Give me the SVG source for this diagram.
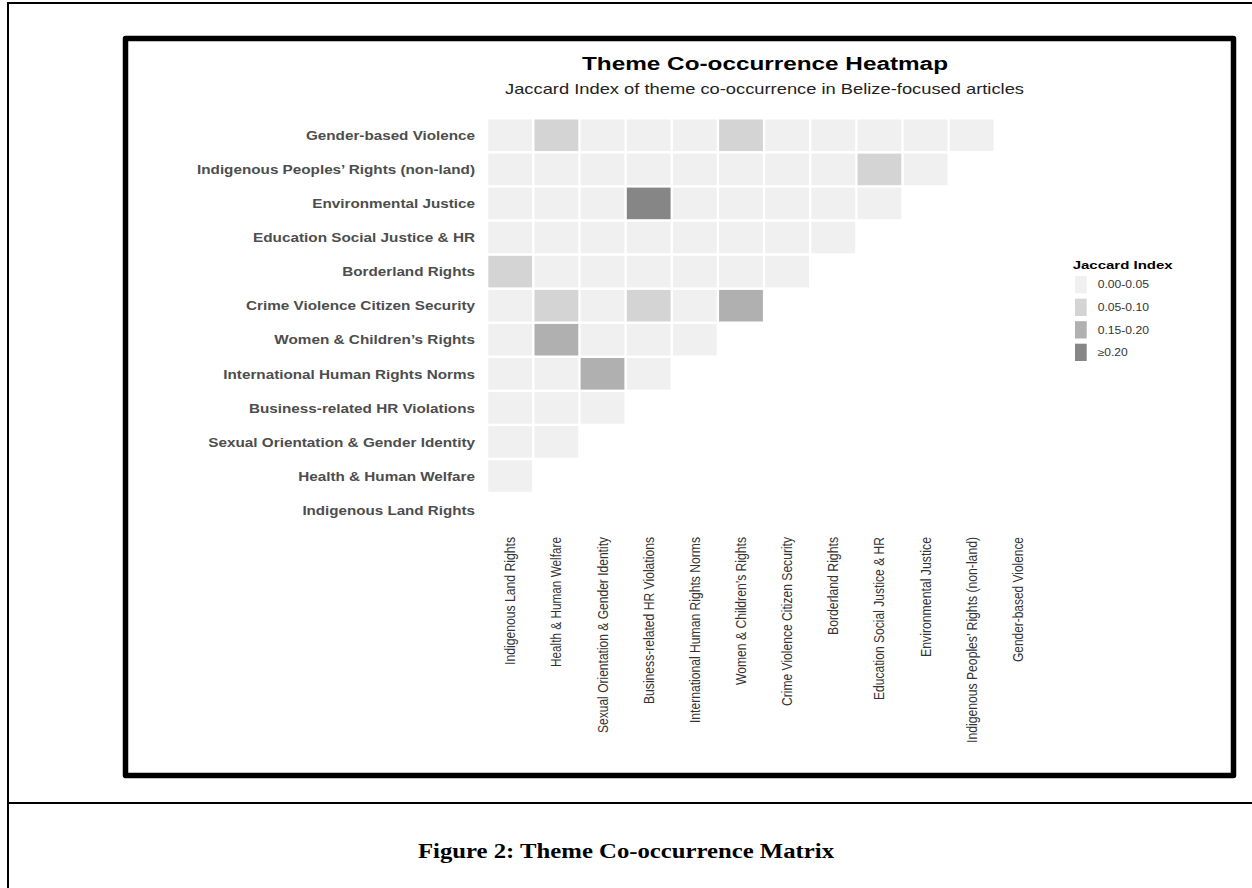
<svg xmlns="http://www.w3.org/2000/svg" width="1252" height="888" viewBox="0 0 1252 888">
  <style>
    .rule { stroke: #000; stroke-width: 2; fill: none; }
    .panel { stroke: #000; stroke-width: 5.5; fill: #fff; stroke-linejoin: round; }
    .c0 { fill: #f0f0f0; }
    .c1 { fill: #d4d4d4; }
    .c2 { fill: #b0b0b0; }
    .c3 { fill: #868686; }
    .title { font-family: "Liberation Sans", Arial, sans-serif; font-weight: bold; font-size: 17.5px; fill: #000; }
    .subtitle { font-family: "Liberation Sans", Arial, sans-serif; font-size: 15px; fill: #222; }
    .ylab { font-family: "Liberation Sans", Arial, sans-serif; font-weight: bold; font-size: 13px; fill: #4d4d4d; text-anchor: end; }
    .xlab { font-family: "Liberation Sans", Arial, sans-serif; font-size: 14px; fill: #333; text-anchor: end; }
    .legtitle { font-family: "Liberation Sans", Arial, sans-serif; font-weight: bold; font-size: 11px; fill: #000; }
    .leglab { font-family: "Liberation Sans", Arial, sans-serif; font-size: 10px; fill: #333; }
    .caption { font-family: "Liberation Serif", "Times New Roman", serif; font-weight: bold; font-size: 20px; fill: #000; text-anchor: middle; }
  </style>

  <rect width="1252" height="888" fill="#fff"/>

  <!-- page rules around the figure -->
  <g id="page-rules">
    <line class="rule" x1="8" y1="3" x2="1252" y2="3"/>
    <line class="rule" x1="8" y1="2" x2="8" y2="888"/>
    <line class="rule" x1="8" y1="803" x2="1252" y2="803"/>
  </g>

  <!-- framed plot panel -->
  <rect id="panel" class="panel" x="125.5" y="38.5" width="1108" height="737"/>

  <g id="titles">
    <text class="title" x="765" y="70" text-anchor="middle" textLength="366" lengthAdjust="spacingAndGlyphs">Theme Co-occurrence Heatmap</text>
    <text class="subtitle" x="764.5" y="94" text-anchor="middle" textLength="519" lengthAdjust="spacingAndGlyphs">Jaccard Index of theme co-occurrence in Belize-focused articles</text>
  </g>

  <!-- lower-triangular heatmap tiles, one group per row -->
  <g id="tiles">
    <g id="row-gender-based-violence">
      <rect class="c0" x="488.3" y="119.5" width="43.8" height="31.6"/>
      <rect class="c1" x="534.5" y="119.5" width="43.8" height="31.6"/>
      <rect class="c0" x="580.6" y="119.5" width="43.8" height="31.6"/>
      <rect class="c0" x="626.8" y="119.5" width="43.8" height="31.6"/>
      <rect class="c0" x="672.9" y="119.5" width="43.8" height="31.6"/>
      <rect class="c1" x="719.1" y="119.5" width="43.8" height="31.6"/>
      <rect class="c0" x="765.2" y="119.5" width="43.8" height="31.6"/>
      <rect class="c0" x="811.4" y="119.5" width="43.8" height="31.6"/>
      <rect class="c0" x="857.5" y="119.5" width="43.8" height="31.6"/>
      <rect class="c0" x="903.7" y="119.5" width="43.8" height="31.6"/>
      <rect class="c0" x="949.8" y="119.5" width="43.8" height="31.6"/>
    </g>
    <g id="row-indigenous-peoples-rights">
      <rect class="c0" x="488.3" y="153.6" width="43.8" height="31.6"/>
      <rect class="c0" x="534.5" y="153.6" width="43.8" height="31.6"/>
      <rect class="c0" x="580.6" y="153.6" width="43.8" height="31.6"/>
      <rect class="c0" x="626.8" y="153.6" width="43.8" height="31.6"/>
      <rect class="c0" x="672.9" y="153.6" width="43.8" height="31.6"/>
      <rect class="c0" x="719.1" y="153.6" width="43.8" height="31.6"/>
      <rect class="c0" x="765.2" y="153.6" width="43.8" height="31.6"/>
      <rect class="c0" x="811.4" y="153.6" width="43.8" height="31.6"/>
      <rect class="c1" x="857.5" y="153.6" width="43.8" height="31.6"/>
      <rect class="c0" x="903.7" y="153.6" width="43.8" height="31.6"/>
    </g>
    <g id="row-environmental-justice">
      <rect class="c0" x="488.3" y="187.6" width="43.8" height="31.6"/>
      <rect class="c0" x="534.5" y="187.6" width="43.8" height="31.6"/>
      <rect class="c0" x="580.6" y="187.6" width="43.8" height="31.6"/>
      <rect class="c3" x="626.8" y="187.6" width="43.8" height="31.6"/>
      <rect class="c0" x="672.9" y="187.6" width="43.8" height="31.6"/>
      <rect class="c0" x="719.1" y="187.6" width="43.8" height="31.6"/>
      <rect class="c0" x="765.2" y="187.6" width="43.8" height="31.6"/>
      <rect class="c0" x="811.4" y="187.6" width="43.8" height="31.6"/>
      <rect class="c0" x="857.5" y="187.6" width="43.8" height="31.6"/>
    </g>
    <g id="row-education">
      <rect class="c0" x="488.3" y="221.7" width="43.8" height="31.6"/>
      <rect class="c0" x="534.5" y="221.7" width="43.8" height="31.6"/>
      <rect class="c0" x="580.6" y="221.7" width="43.8" height="31.6"/>
      <rect class="c0" x="626.8" y="221.7" width="43.8" height="31.6"/>
      <rect class="c0" x="672.9" y="221.7" width="43.8" height="31.6"/>
      <rect class="c0" x="719.1" y="221.7" width="43.8" height="31.6"/>
      <rect class="c0" x="765.2" y="221.7" width="43.8" height="31.6"/>
      <rect class="c0" x="811.4" y="221.7" width="43.8" height="31.6"/>
    </g>
    <g id="row-borderland-rights">
      <rect class="c1" x="488.3" y="255.8" width="43.8" height="31.6"/>
      <rect class="c0" x="534.5" y="255.8" width="43.8" height="31.6"/>
      <rect class="c0" x="580.6" y="255.8" width="43.8" height="31.6"/>
      <rect class="c0" x="626.8" y="255.8" width="43.8" height="31.6"/>
      <rect class="c0" x="672.9" y="255.8" width="43.8" height="31.6"/>
      <rect class="c0" x="719.1" y="255.8" width="43.8" height="31.6"/>
      <rect class="c0" x="765.2" y="255.8" width="43.8" height="31.6"/>
    </g>
    <g id="row-crime-violence">
      <rect class="c0" x="488.3" y="289.9" width="43.8" height="31.6"/>
      <rect class="c1" x="534.5" y="289.9" width="43.8" height="31.6"/>
      <rect class="c0" x="580.6" y="289.9" width="43.8" height="31.6"/>
      <rect class="c1" x="626.8" y="289.9" width="43.8" height="31.6"/>
      <rect class="c0" x="672.9" y="289.9" width="43.8" height="31.6"/>
      <rect class="c2" x="719.1" y="289.9" width="43.8" height="31.6"/>
    </g>
    <g id="row-women-children">
      <rect class="c0" x="488.3" y="323.9" width="43.8" height="31.6"/>
      <rect class="c2" x="534.5" y="323.9" width="43.8" height="31.6"/>
      <rect class="c0" x="580.6" y="323.9" width="43.8" height="31.6"/>
      <rect class="c0" x="626.8" y="323.9" width="43.8" height="31.6"/>
      <rect class="c0" x="672.9" y="323.9" width="43.8" height="31.6"/>
    </g>
    <g id="row-international-norms">
      <rect class="c0" x="488.3" y="358.0" width="43.8" height="31.6"/>
      <rect class="c0" x="534.5" y="358.0" width="43.8" height="31.6"/>
      <rect class="c2" x="580.6" y="358.0" width="43.8" height="31.6"/>
      <rect class="c0" x="626.8" y="358.0" width="43.8" height="31.6"/>
    </g>
    <g id="row-business-hr">
      <rect class="c0" x="488.3" y="392.1" width="43.8" height="31.6"/>
      <rect class="c0" x="534.5" y="392.1" width="43.8" height="31.6"/>
      <rect class="c0" x="580.6" y="392.1" width="43.8" height="31.6"/>
    </g>
    <g id="row-sexual-orientation">
      <rect class="c0" x="488.3" y="426.1" width="43.8" height="31.6"/>
      <rect class="c0" x="534.5" y="426.1" width="43.8" height="31.6"/>
    </g>
    <g id="row-health-welfare">
      <rect class="c0" x="488.3" y="460.2" width="43.8" height="31.6"/>
    </g>
  </g>

  <!-- y axis labels -->
  <g id="y-axis">
    <text class="ylab" x="475" y="140.0" textLength="169" lengthAdjust="spacingAndGlyphs">Gender-based Violence</text>
    <text class="ylab" x="475" y="174.1" textLength="278" lengthAdjust="spacingAndGlyphs">Indigenous Peoples’ Rights (non-land)</text>
    <text class="ylab" x="475" y="208.1" textLength="162.7" lengthAdjust="spacingAndGlyphs">Environmental Justice</text>
    <text class="ylab" x="475" y="242.2" textLength="222" lengthAdjust="spacingAndGlyphs">Education Social Justice &amp; HR</text>
    <text class="ylab" x="475" y="276.3" textLength="132.7" lengthAdjust="spacingAndGlyphs">Borderland Rights</text>
    <text class="ylab" x="475" y="310.4" textLength="229" lengthAdjust="spacingAndGlyphs">Crime Violence Citizen Security</text>
    <text class="ylab" x="475" y="344.4" textLength="200.7" lengthAdjust="spacingAndGlyphs">Women &amp; Children’s Rights</text>
    <text class="ylab" x="475" y="378.5" textLength="251.7" lengthAdjust="spacingAndGlyphs">International Human Rights Norms</text>
    <text class="ylab" x="475" y="412.6" textLength="226" lengthAdjust="spacingAndGlyphs">Business-related HR Violations</text>
    <text class="ylab" x="475" y="446.6" textLength="266.7" lengthAdjust="spacingAndGlyphs">Sexual Orientation &amp; Gender Identity</text>
    <text class="ylab" x="475" y="480.7" textLength="176.7" lengthAdjust="spacingAndGlyphs">Health &amp; Human Welfare</text>
    <text class="ylab" x="475" y="514.8" textLength="172.6" lengthAdjust="spacingAndGlyphs">Indigenous Land Rights</text>
  </g>

  <!-- x axis labels, rotated to read upward -->
  <g id="x-axis">
    <text class="xlab" transform="translate(515.2 537) rotate(-90)" textLength="128" lengthAdjust="spacingAndGlyphs">Indigenous Land Rights</text>
    <text class="xlab" transform="translate(561.4 537) rotate(-90)" textLength="130" lengthAdjust="spacingAndGlyphs">Health &amp; Human Welfare</text>
    <text class="xlab" transform="translate(607.5 537) rotate(-90)" textLength="196" lengthAdjust="spacingAndGlyphs">Sexual Orientation &amp; Gender Identity</text>
    <text class="xlab" transform="translate(653.7 537) rotate(-90)" textLength="167" lengthAdjust="spacingAndGlyphs">Business-related HR Violations</text>
    <text class="xlab" transform="translate(699.8 537) rotate(-90)" textLength="186" lengthAdjust="spacingAndGlyphs">International Human Rights Norms</text>
    <text class="xlab" transform="translate(746.0 537) rotate(-90)" textLength="148" lengthAdjust="spacingAndGlyphs">Women &amp; Children’s Rights</text>
    <text class="xlab" transform="translate(792.1 537) rotate(-90)" textLength="169" lengthAdjust="spacingAndGlyphs">Crime Violence Citizen Security</text>
    <text class="xlab" transform="translate(838.3 537) rotate(-90)" textLength="98" lengthAdjust="spacingAndGlyphs">Borderland Rights</text>
    <text class="xlab" transform="translate(884.4 537) rotate(-90)" textLength="163" lengthAdjust="spacingAndGlyphs">Education Social Justice &amp; HR</text>
    <text class="xlab" transform="translate(930.6 537) rotate(-90)" textLength="120" lengthAdjust="spacingAndGlyphs">Environmental Justice</text>
    <text class="xlab" transform="translate(976.7 537) rotate(-90)" textLength="206" lengthAdjust="spacingAndGlyphs">Indigenous Peoples’ Rights (non-land)</text>
    <text class="xlab" transform="translate(1022.9 537) rotate(-90)" textLength="125" lengthAdjust="spacingAndGlyphs">Gender-based Violence</text>
  </g>

  <!-- colour legend -->
  <g id="legend">
    <text class="legtitle" x="1072.7" y="269.3" textLength="100" lengthAdjust="spacingAndGlyphs">Jaccard Index</text>
    <rect class="c0" x="1075" y="276" width="11.7" height="17.3"/>
    <rect class="c1" x="1075" y="298.7" width="11.7" height="17.3"/>
    <rect class="c2" x="1075" y="321.2" width="11.7" height="17.3"/>
    <rect class="c3" x="1075" y="343.7" width="11.7" height="17.3"/>
    <text class="leglab" x="1097.7" y="288.4" textLength="51.3" lengthAdjust="spacingAndGlyphs">0.00-0.05</text>
    <text class="leglab" x="1097.7" y="311.1" textLength="51.3" lengthAdjust="spacingAndGlyphs">0.05-0.10</text>
    <text class="leglab" x="1097.7" y="333.6" textLength="51.3" lengthAdjust="spacingAndGlyphs">0.15-0.20</text>
    <text class="leglab" x="1097.7" y="356.1" textLength="30" lengthAdjust="spacingAndGlyphs">≥0.20</text>
  </g>

  <text id="caption" class="caption" x="626" y="858" textLength="416" lengthAdjust="spacingAndGlyphs">Figure 2: Theme Co-occurrence Matrix</text>
</svg>
